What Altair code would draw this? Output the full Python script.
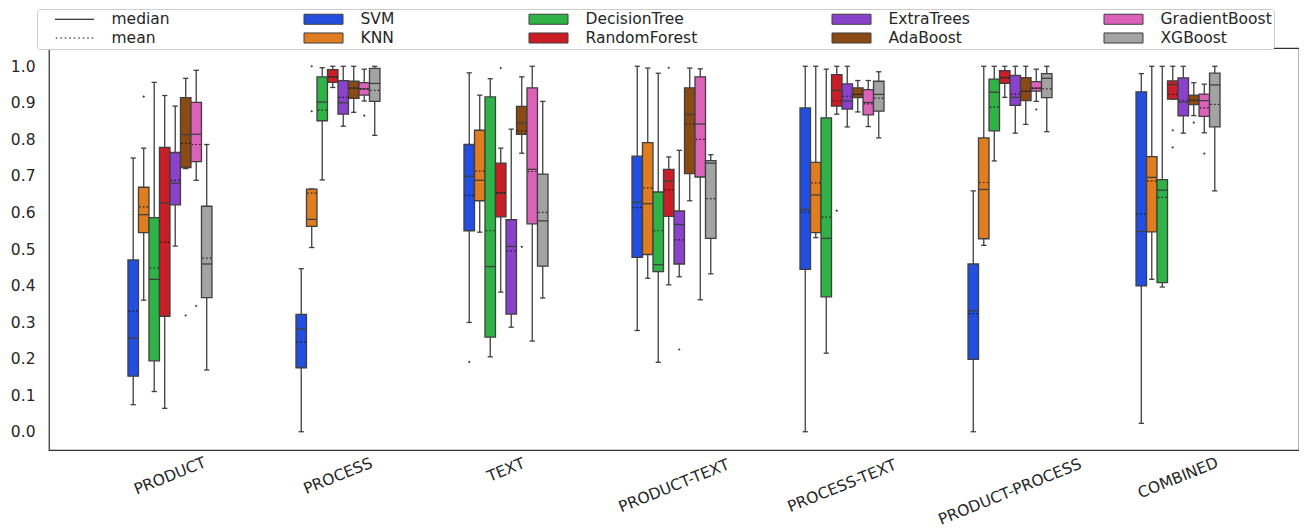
import altair as alt
import pandas as pd

# ---------------- data ----------------
categories = ["PRODUCT", "PROCESS", "TEXT", "PRODUCT-TEXT", "PROCESS-TEXT",
              "PRODUCT-PROCESS", "COMBINED"]
models = ["SVM", "KNN", "DecisionTree", "RandomForest", "ExtraTrees",
          "AdaBoost", "GradientBoost", "XGBoost"]
model_colors = ["#224FDF", "#DF7D20", "#30B346", "#CB1D25", "#8A42CB",
                "#8B4A14", "#DC61B8", "#A3A3A3"]
y_ticks = [0.0, 0.1, 0.2, 0.3, 0.4, 0.5, 0.6, 0.7, 0.8, 0.9, 1.0]

whisker_low = [
    [0.074, 0.360, 0.110, 0.064, 0.508, 0.720, 0.688, 0.169],
    [0.000, 0.504, 0.689, 0.942, 0.836, 0.874, 0.905, 0.811],
    [0.299, 0.546, 0.205, 0.382, 0.286, 0.762, 0.248, 0.366],
    [0.277, 0.420, 0.190, 0.402, 0.424, 0.632, 0.361, 0.432],
    [0.000, 0.531, 0.215, 0.869, 0.834, 0.875, 0.835, 0.804],
    [0.000, 0.510, 0.741, 0.915, 0.817, 0.841, 0.904, 0.821],
    [0.023, 0.417, 0.396, 0.910, 0.817, 0.865, 0.818, 0.659],
]
quartile1 = [
    [0.152, 0.545, 0.194, 0.316, 0.621, 0.723, 0.739, 0.367],
    [0.175, 0.562, 0.851, 0.956, 0.869, 0.912, 0.921, 0.904],
    [0.550, 0.632, 0.259, 0.588, 0.322, 0.814, 0.569, 0.453],
    [0.477, 0.485, 0.438, 0.589, 0.459, 0.706, 0.697, 0.529],
    [0.444, 0.545, 0.369, 0.891, 0.883, 0.914, 0.867, 0.877],
    [0.198, 0.528, 0.823, 0.953, 0.893, 0.906, 0.932, 0.914],
    [0.399, 0.547, 0.408, 0.910, 0.864, 0.895, 0.863, 0.834],
]
medians = [
    [0.256, 0.594, 0.417, 0.626, 0.680, 0.813, 0.814, 0.459],
    [0.281, 0.581, 0.902, 0.971, 0.900, 0.940, 0.938, 0.953],
    [0.699, 0.688, 0.452, 0.653, 0.507, 0.845, 0.718, 0.577],
    [0.628, 0.624, 0.457, 0.686, 0.567, 0.868, 0.842, 0.735],
    [0.608, 0.648, 0.529, 0.934, 0.905, 0.923, 0.901, 0.923],
    [0.331, 0.663, 0.929, 0.969, 0.915, 0.932, 0.940, 0.967],
    [0.548, 0.696, 0.661, 0.950, 0.902, 0.907, 0.906, 0.949],
]
quartile3 = [
    [0.470, 0.669, 0.586, 0.778, 0.764, 0.914, 0.901, 0.617],
    [0.321, 0.664, 0.971, 0.991, 0.961, 0.959, 0.955, 0.994],
    [0.786, 0.825, 0.916, 0.735, 0.580, 0.890, 0.941, 0.705],
    [0.754, 0.791, 0.656, 0.718, 0.604, 0.941, 0.971, 0.742],
    [0.886, 0.737, 0.859, 0.977, 0.952, 0.941, 0.936, 0.959],
    [0.459, 0.804, 0.965, 0.988, 0.975, 0.969, 0.958, 0.980],
    [0.930, 0.753, 0.690, 0.960, 0.968, 0.921, 0.924, 0.981],
]
whisker_high = [
    [0.749, 0.776, 0.956, 0.920, 0.891, 0.967, 0.989, 0.786],
    [0.446, 0.664, 0.996, 1.000, 1.000, 1.000, 0.992, 1.000],
    [0.982, 0.921, 0.966, 0.776, 0.828, 0.971, 1.000, 0.904],
    [1.000, 0.995, 0.981, 0.752, 0.770, 0.995, 0.993, 0.758],
    [1.000, 1.000, 0.992, 1.000, 1.000, 0.961, 0.961, 0.985],
    [0.659, 1.000, 1.000, 1.000, 1.000, 1.000, 0.992, 1.000],
    [0.980, 1.000, 1.000, 1.000, 1.000, 0.955, 0.951, 1.000],
]
means = [
    [0.330, 0.615, 0.448, 0.519, 0.688, 0.789, 0.786, 0.475],
    [0.245, 0.653, 0.880, 0.971, 0.915, 0.940, 0.938, 0.934],
    [0.647, 0.713, 0.550, 0.654, 0.495, 0.823, 0.712, 0.600],
    [0.613, 0.667, 0.550, 0.662, 0.525, 0.842, 0.800, 0.638],
    [0.601, 0.681, 0.587, 0.905, 0.918, 0.923, 0.897, 0.913],
    [0.323, 0.682, 0.888, 0.969, 0.924, 0.931, 0.940, 0.938],
    [0.596, 0.686, 0.641, 0.923, 0.907, 0.907, 0.886, 0.896],
]
outlier_category = ["PRODUCT", "PRODUCT", "PRODUCT",
                    "PROCESS", "PROCESS", "PROCESS",
                    "TEXT", "TEXT", "TEXT",
                    "PRODUCT-TEXT", "PRODUCT-TEXT",
                    "PROCESS-TEXT",
                    "PRODUCT-PROCESS",
                    "COMBINED", "COMBINED", "COMBINED", "COMBINED"]
outlier_model = ["KNN", "AdaBoost", "GradientBoost",
                 "KNN", "KNN", "GradientBoost",
                 "SVM", "RandomForest", "AdaBoost",
                 "RandomForest", "ExtraTrees",
                 "RandomForest",
                 "GradientBoost",
                 "RandomForest", "RandomForest", "AdaBoost", "GradientBoost"]
outlier_value = [0.917, 0.318, 0.344,
                 1.000, 0.877, 0.865,
                 0.191, 0.995, 0.506,
                 0.996, 0.225,
                 0.605,
                 0.882,
                 0.825, 0.778, 0.846, 0.761]

# ---------------- tables ----------------
rows = []
for ci, cat in enumerate(categories):
    for mi, mod in enumerate(models):
        rows.append({"category": cat, "model": mod,
                     "lo": whisker_low[ci][mi], "q1": quartile1[ci][mi],
                     "med": medians[ci][mi], "q3": quartile3[ci][mi],
                     "hi": whisker_high[ci][mi], "mean": means[ci][mi]})
box_df = pd.DataFrame(rows)
out_df = pd.DataFrame({"category": outlier_category, "model": outlier_model,
                       "value": outlier_value})
cat_df = pd.DataFrame({"category": categories})

legend_order = ["median"] + models[0::2] + ["mean"] + models[1::2]
color_of = dict(zip(models, model_colors))

# ---------------- style ----------------
W, H = 1250, 402
EDGE = "#3f3f3f"
LW = 1.3
FONT = "DejaVu Sans"
FS = 15.5
TXT = "#262626"
BOXW = 10.5

stub = "M-4.73,0"
patch_path = stub + "M-2.6,-0.67H2.6V0.67H-2.6Z"
median_path = stub + "M-2.6,0H2.6"
mean_path = stub + "".join(f"M{-2.5 + k * 0.6:.2f},0h0.2" for k in range(9))
legend_fill = ["black" if k in ("median", "mean") else color_of[k] for k in legend_order]
legend_stroke = ["black" if k in ("median", "mean") else EDGE for k in legend_order]
legend_shape = [median_path if k == "median" else mean_path if k == "mean" else patch_path
                for k in legend_order]
box_mean_path = "M-0.825,0H-0.575M-0.125,0H0.125M0.575,0H0.825"

x_enc = alt.X("category:N",
              scale=alt.Scale(domain=categories, paddingInner=0.5, paddingOuter=0.47),
              axis=None, title=None)
xo_enc = alt.XOffset("model:N", scale=alt.Scale(domain=models))
y_scale = alt.Scale(domain=[-0.05, 1.05], nice=False, zero=False)
y_axis = alt.Axis(values=y_ticks, format=".1f", ticks=False, domain=False, grid=False,
                  labelPadding=14, labelFont=FONT, labelFontSize=FS, labelColor=TXT,
                  title=None)

base = alt.Chart(box_df)

whisk_lo = base.mark_rule(color=EDGE, strokeWidth=LW).encode(
    x=x_enc, xOffset=xo_enc, y=alt.Y("lo:Q", scale=y_scale, axis=y_axis, title=None),
    y2="q1:Q")
whisk_hi = base.mark_rule(color=EDGE, strokeWidth=LW).encode(
    x=x_enc, xOffset=xo_enc, y=alt.Y("q3:Q", scale=y_scale, axis=y_axis, title=None),
    y2="hi:Q")
cap_lo = base.mark_tick(color=EDGE, size=5.25, thickness=LW, opacity=1).encode(
    x=x_enc, xOffset=xo_enc, y=alt.Y("lo:Q", scale=y_scale, axis=y_axis, title=None))
cap_hi = base.mark_tick(color=EDGE, size=5.25, thickness=LW, opacity=1).encode(
    x=x_enc, xOffset=xo_enc, y=alt.Y("hi:Q", scale=y_scale, axis=y_axis, title=None))
boxes = base.mark_bar(stroke=EDGE, strokeWidth=LW, opacity=1).encode(
    x=x_enc, xOffset=xo_enc,
    y=alt.Y("q1:Q", scale=y_scale, axis=y_axis, title=None), y2="q3:Q",
    color=alt.Color("model:N", scale=alt.Scale(domain=models, range=model_colors),
                    legend=None))
med_ticks = base.mark_tick(color=EDGE, size=BOXW, thickness=LW, opacity=1).encode(
    x=x_enc, xOffset=xo_enc, y=alt.Y("med:Q", scale=y_scale, axis=y_axis, title=None))
mean_marks = base.mark_point(shape=box_mean_path, size=BOXW * BOXW, filled=False,
                             stroke="#111111", strokeWidth=1.2, opacity=1).encode(
    x=x_enc, xOffset=xo_enc, y=alt.Y("mean:Q", scale=y_scale, axis=y_axis, title=None))
fliers = alt.Chart(out_df).mark_point(shape="diamond", filled=True, size=7,
                                      color=EDGE, opacity=1).encode(
    x=x_enc, xOffset=xo_enc, y=alt.Y("value:Q", scale=y_scale, axis=y_axis, title=None))

labels = alt.Chart(cat_df).transform_calculate(
    ypix=f"{H} + 12 + length(datum.category) * 1.99"
).mark_text(angle=338, align="center", baseline="middle", font=FONT,
            fontSize=FS, color=TXT).encode(
    x=x_enc, y=alt.Y("ypix:Q", scale=None, axis=None), text="category:N")

leg = alt.Legend(title=None, orient="none", legendX=-12, legendY=-39,
                 direction="horizontal", columns=5, columnPadding=116, rowPadding=2,
                 padding=2, symbolOffset=27.5, labelOffset=29, labelFont=FONT,
                 labelFontSize=FS, labelColor=TXT, labelLimit=400,
                 strokeColor="#cccccc", fillColor="white", cornerRadius=3,
                 symbolSize=225, symbolStrokeWidth=1, symbolOpacity=1)
legend_df = pd.DataFrame({"key": legend_order})
legend_layer = alt.Chart(legend_df).transform_filter("false").mark_point(
    filled=True, size=225, strokeWidth=1, opacity=1).encode(
    fill=alt.Fill("key:N", scale=alt.Scale(domain=legend_order, range=legend_fill), legend=leg),
    stroke=alt.Stroke("key:N", scale=alt.Scale(domain=legend_order, range=legend_stroke), legend=leg),
    shape=alt.Shape("key:N", scale=alt.Scale(domain=legend_order, range=legend_shape), legend=leg),
)

chart = alt.layer(whisk_lo, whisk_hi, cap_lo, cap_hi, boxes, med_ticks, mean_marks,
                  fliers, labels, legend_layer).properties(
    width=W, height=H,
    padding={"left": 2, "top": 0, "right": 0, "bottom": 0},
    background="white",
).configure_view(stroke="#333333", strokeWidth=1.25)

chart.save("out.html", embed_options={"renderer": "svg", "actions": False})
